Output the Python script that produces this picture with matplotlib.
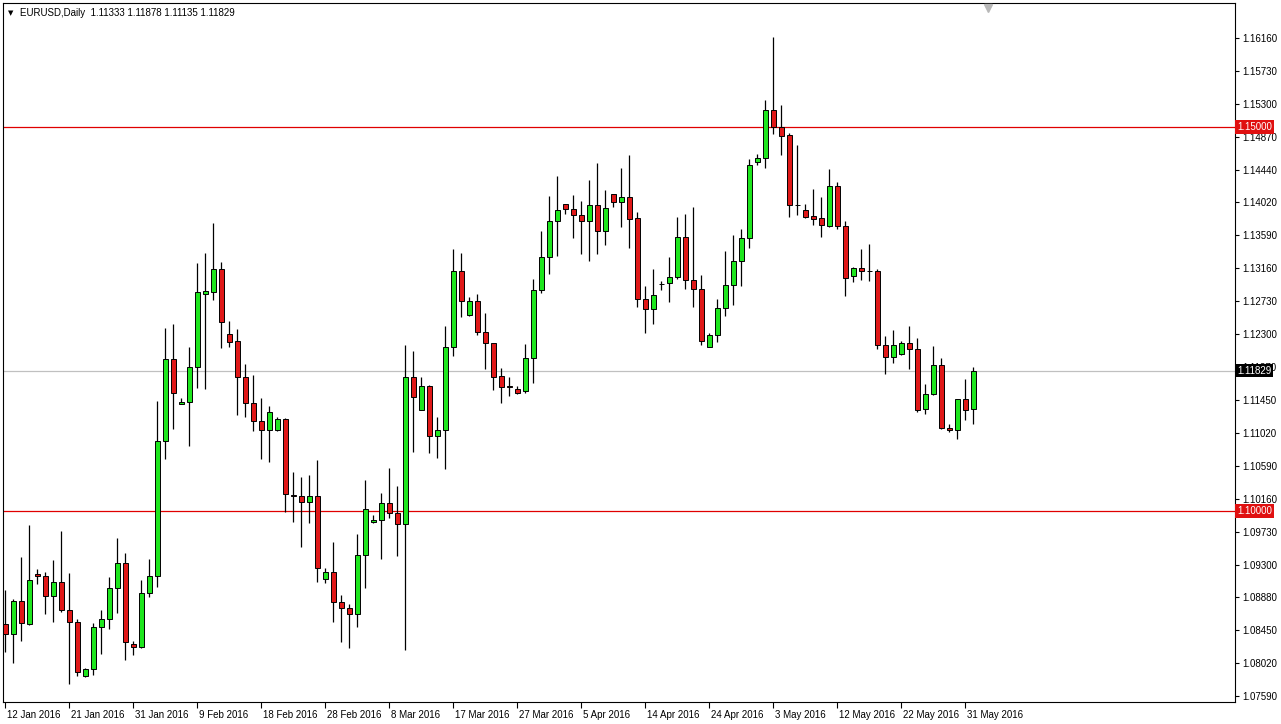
import matplotlib
matplotlib.use("Agg")
import matplotlib.pyplot as plt
import matplotlib.transforms as mtransforms
from matplotlib.patches import Rectangle

# EURUSD daily candles, 12 Jan 2016 .. 1 Jun 2016
opens = [
    1.0853, 1.0840, 1.0883, 1.0853, 1.0918, 1.0915, 1.0889, 1.0908, 1.0871, 1.0855,
    1.0785, 1.0794, 1.0849, 1.0859, 1.0900, 1.0932, 1.0827, 1.0823, 1.0893, 1.0915,
    1.1091, 1.1198, 1.1139, 1.1142, 1.1188, 1.1283, 1.1285, 1.1315, 1.1230, 1.1221,
    1.1174, 1.1141, 1.1117, 1.1105, 1.1105, 1.1120, 1.1021, 1.1020, 1.1012, 1.1020,
    1.0911, 1.0921, 1.0882, 1.0874, 1.0866, 1.0943, 1.0986, 1.0988, 1.1010, 1.0997,
    1.0983, 1.1174, 1.1132, 1.1163, 1.1098, 1.1105, 1.1214, 1.1313, 1.1255, 1.1273,
    1.1233, 1.1219, 1.1176, 1.1163, 1.1159, 1.1156, 1.1199, 1.1288, 1.1331, 1.1378,
    1.1400, 1.1393, 1.1385, 1.1378, 1.1398, 1.1365, 1.1413, 1.1402, 1.1409, 1.1381,
    1.1276, 1.1263, 1.1296, 1.1297, 1.1305, 1.1357, 1.1301, 1.1289, 1.1214, 1.1229,
    1.1264, 1.1294, 1.1326, 1.1355, 1.1454, 1.1460, 1.1522, 1.1500, 1.1490, 1.1399,
    1.1392, 1.1384, 1.1381, 1.1371, 1.1423, 1.1371, 1.1306, 1.1316, 1.1313, 1.1312,
    1.1216, 1.1201, 1.1204, 1.1219, 1.1211, 1.1133, 1.1152, 1.1190, 1.1108, 1.1105,
    1.1146, 1.11333,
]
highs = [
    1.0897, 1.0885, 1.0940, 1.0982, 1.0924, 1.0921, 1.0936, 1.0974, 1.0919, 1.0859,
    1.0796, 1.0854, 1.0871, 1.0914, 1.0965, 1.0945, 1.0831, 1.0910, 1.0937, 1.1143,
    1.1238, 1.1243, 1.1147, 1.1214, 1.1323, 1.1336, 1.1375, 1.1324, 1.1247, 1.1237,
    1.1191, 1.1177, 1.1147, 1.1137, 1.1122, 1.1121, 1.1051, 1.1044, 1.1047, 1.1066,
    1.0926, 1.0960, 1.0891, 1.0879, 1.0970, 1.1040, 1.0995, 1.1023, 1.1056, 1.1033,
    1.1216, 1.1208, 1.1174, 1.1164, 1.1122, 1.1241, 1.1341, 1.1336, 1.1279, 1.1283,
    1.1258, 1.1219, 1.1186, 1.1174, 1.1163, 1.1217, 1.1302, 1.1365, 1.1410, 1.1436,
    1.1400, 1.1411, 1.1404, 1.1431, 1.1453, 1.1418, 1.1413, 1.1447, 1.1464, 1.1389,
    1.1293, 1.1315, 1.1299, 1.1331, 1.1383, 1.1387, 1.1396, 1.1307, 1.1232, 1.1276,
    1.1339, 1.1359, 1.1367, 1.1458, 1.1465, 1.1535, 1.1617, 1.1529, 1.1492, 1.1477,
    1.1400, 1.1419, 1.1409, 1.1445, 1.1428, 1.1378, 1.1318, 1.1341, 1.1348, 1.1315,
    1.1228, 1.1236, 1.1221, 1.1241, 1.1225, 1.1165, 1.1215, 1.1199, 1.1113, 1.1146,
    1.1172, 1.11878,
]
lows = [
    1.0816, 1.0802, 1.0831, 1.0851, 1.0905, 1.0866, 1.0855, 1.0868, 1.0775, 1.0785,
    1.0784, 1.0786, 1.0814, 1.0846, 1.0867, 1.0806, 1.0812, 1.0822, 1.0888, 1.0901,
    1.1068, 1.1107, 1.1139, 1.1085, 1.1160, 1.1159, 1.1275, 1.1212, 1.1214, 1.1125,
    1.1122, 1.1104, 1.1068, 1.1064, 1.1104, 1.0999, 1.0986, 1.0953, 1.0984, 1.0908,
    1.0906, 1.0855, 1.0829, 1.0822, 1.0849, 1.0900, 1.0985, 1.0937, 1.0991, 1.0941,
    1.0819, 1.1077, 1.1131, 1.1076, 1.1069, 1.1055, 1.1202, 1.1253, 1.1254, 1.1229,
    1.1185, 1.1158, 1.1141, 1.1150, 1.1152, 1.1154, 1.1167, 1.1284, 1.1309, 1.1332,
    1.1387, 1.1355, 1.1335, 1.1326, 1.1335, 1.1346, 1.1396, 1.1370, 1.1342, 1.1266,
    1.1232, 1.1243, 1.1288, 1.1272, 1.1302, 1.1289, 1.1266, 1.1216, 1.1213, 1.1220,
    1.1254, 1.1268, 1.1293, 1.1342, 1.1451, 1.1447, 1.1491, 1.1464, 1.1383, 1.1385,
    1.1382, 1.1372, 1.1357, 1.1370, 1.1367, 1.1280, 1.1298, 1.1301, 1.1299, 1.1211,
    1.1178, 1.1193, 1.1203, 1.1185, 1.1129, 1.1126, 1.1151, 1.1107, 1.1103, 1.1094,
    1.1118, 1.11135,
]
closes = [
    1.0840, 1.0883, 1.0854, 1.0910, 1.0915, 1.0889, 1.0908, 1.0871, 1.0855, 1.0790,
    1.0794, 1.0849, 1.0859, 1.0900, 1.0932, 1.0829, 1.0823, 1.0893, 1.0915, 1.1091,
    1.1198, 1.1154, 1.1142, 1.1188, 1.1285, 1.1286, 1.1315, 1.1246, 1.1220, 1.1174,
    1.1141, 1.1117, 1.1105, 1.1129, 1.1120, 1.1022, 1.1020, 1.1012, 1.1020, 1.0926,
    1.0921, 1.0882, 1.0874, 1.0866, 1.0943, 1.1003, 1.0988, 1.1010, 1.0997, 1.0983,
    1.1174, 1.1148, 1.1163, 1.1098, 1.1105, 1.1214, 1.1313, 1.1273, 1.1273, 1.1233,
    1.1219, 1.1174, 1.1161, 1.1162, 1.1154, 1.1199, 1.1288, 1.1331, 1.1378, 1.1392,
    1.1393, 1.1385, 1.1378, 1.1398, 1.1365, 1.1395, 1.1402, 1.1409, 1.1380, 1.1276,
    1.1263, 1.1281, 1.1296, 1.1305, 1.1357, 1.1301, 1.1289, 1.1221, 1.1229, 1.1264,
    1.1294, 1.1326, 1.1355, 1.1451, 1.1460, 1.1522, 1.1500, 1.1488, 1.1398, 1.1398,
    1.1383, 1.1380, 1.1372, 1.1423, 1.1371, 1.1303, 1.1316, 1.1313, 1.1312, 1.1216,
    1.1201, 1.1216, 1.1219, 1.1211, 1.1132, 1.1152, 1.1190, 1.1108, 1.1105, 1.1146,
    1.1132, 1.11829,
]

date_labels = ["12 Jan 2016", "21 Jan 2016", "31 Jan 2016", "9 Feb 2016",
               "18 Feb 2016", "28 Feb 2016", "8 Mar 2016", "17 Mar 2016",
               "27 Mar 2016", "5 Apr 2016", "14 Apr 2016", "24 Apr 2016",
               "3 May 2016", "12 May 2016", "22 May 2016", "31 May 2016"]

price_ticks = [1.16160, 1.15730, 1.15300, 1.14870, 1.14440, 1.14020, 1.13590,
               1.13160, 1.12730, 1.12300, 1.11870, 1.11450, 1.11020, 1.10590,
               1.10160, 1.09730, 1.09300, 1.08880, 1.08450, 1.08020, 1.07590]

levels = [1.15000, 1.10000]
last_price = 1.11829
symbol = "EURUSD,Daily"

GREEN = "#1ee61e"
RED = "#e01818"
FONT = "Liberation Sans"

fig = plt.figure(figsize=(12.81, 7.24), dpi=100)
fig.patch.set_facecolor("white")
ax = fig.add_axes([3 / 1281, 22 / 724, 1232 / 1281, 699 / 724])
ax.set_facecolor("white")

# candles
w = 0.66
for i, (o, h, l, c) in enumerate(zip(opens, highs, lows, closes)):
    ax.vlines(i, l, h, color="black", lw=0.9, zorder=2)
    col = GREEN if c >= o else RED
    body = max(abs(c - o), 0.00002)
    ax.add_patch(Rectangle((i - w / 2, min(o, c)), w, body, facecolor=col,
                           edgecolor="black", lw=0.7, zorder=3))

# horizontal levels
for lv in levels:
    ax.axhline(lv, color="#e00000", lw=0.9, zorder=1)
ax.axhline(last_price, color="#c0c0c0", lw=0.9, zorder=1)

ax.set_xlim(-0.29, 153.7)
ax.set_ylim(1.07513, 1.16615)

# axes styling
for sp in ax.spines.values():
    sp.set_color("black")
    sp.set_linewidth(0.8)

ax.yaxis.tick_right()
ax.set_yticks(price_ticks)
ax.set_yticklabels([f"{p:.5f}" for p in price_ticks], fontsize=7, family=FONT)
ax.tick_params(axis="y", direction="out", length=3, pad=2, colors="black")

ax.set_xticks(range(0, len(opens), 8)[:len(date_labels)])
ax.set_xticklabels(date_labels, fontsize=7, family=FONT)
ax.tick_params(axis="x", direction="out", length=4, pad=1.5, colors="black")
for lab in ax.get_xticklabels():
    lab.set_horizontalalignment("left")
offset = mtransforms.ScaledTranslation(2 / 100, 0, fig.dpi_scale_trans)
for lab in ax.get_xticklabels():
    lab.set_transform(lab.get_transform() + offset)

# price boxes on the right scale
trans = mtransforms.blended_transform_factory(ax.transAxes, ax.transData)
for lv in levels:
    ax.text(1.0017, lv, f"{lv:.5f}", transform=trans, fontsize=7, family=FONT,
            color="white", va="center", ha="left", zorder=10, clip_on=False,
            bbox=dict(boxstyle="square,pad=0.2", fc="#e01010", ec="none"))
ax.text(1.0017, last_price, f"{last_price:.5f}", transform=trans, fontsize=7,
        family=FONT, color="white", va="center", ha="left", zorder=10,
        clip_on=False, bbox=dict(boxstyle="square,pad=0.2", fc="black", ec="none"))

# header
fig.text(8 / 1281, 1 - 13 / 724, "\u25BC", fontsize=5, family="DejaVu Sans",
         va="center", ha="left")
fig.text(20 / 1281, 1 - 13 / 724,
         f"{symbol}  {opens[-1]:.5f} {highs[-1]:.5f} {lows[-1]:.5f} {closes[-1]:.5f}",
         fontsize=7, family=FONT, va="center", ha="left")

# chart shift marker at the top
ax.plot([122.8], [0.993], marker="v", markersize=6, color="#b8b8b8",
        transform=mtransforms.blended_transform_factory(ax.transData, ax.transAxes),
        clip_on=False, zorder=5)

fig.savefig("out.png", dpi=100)
